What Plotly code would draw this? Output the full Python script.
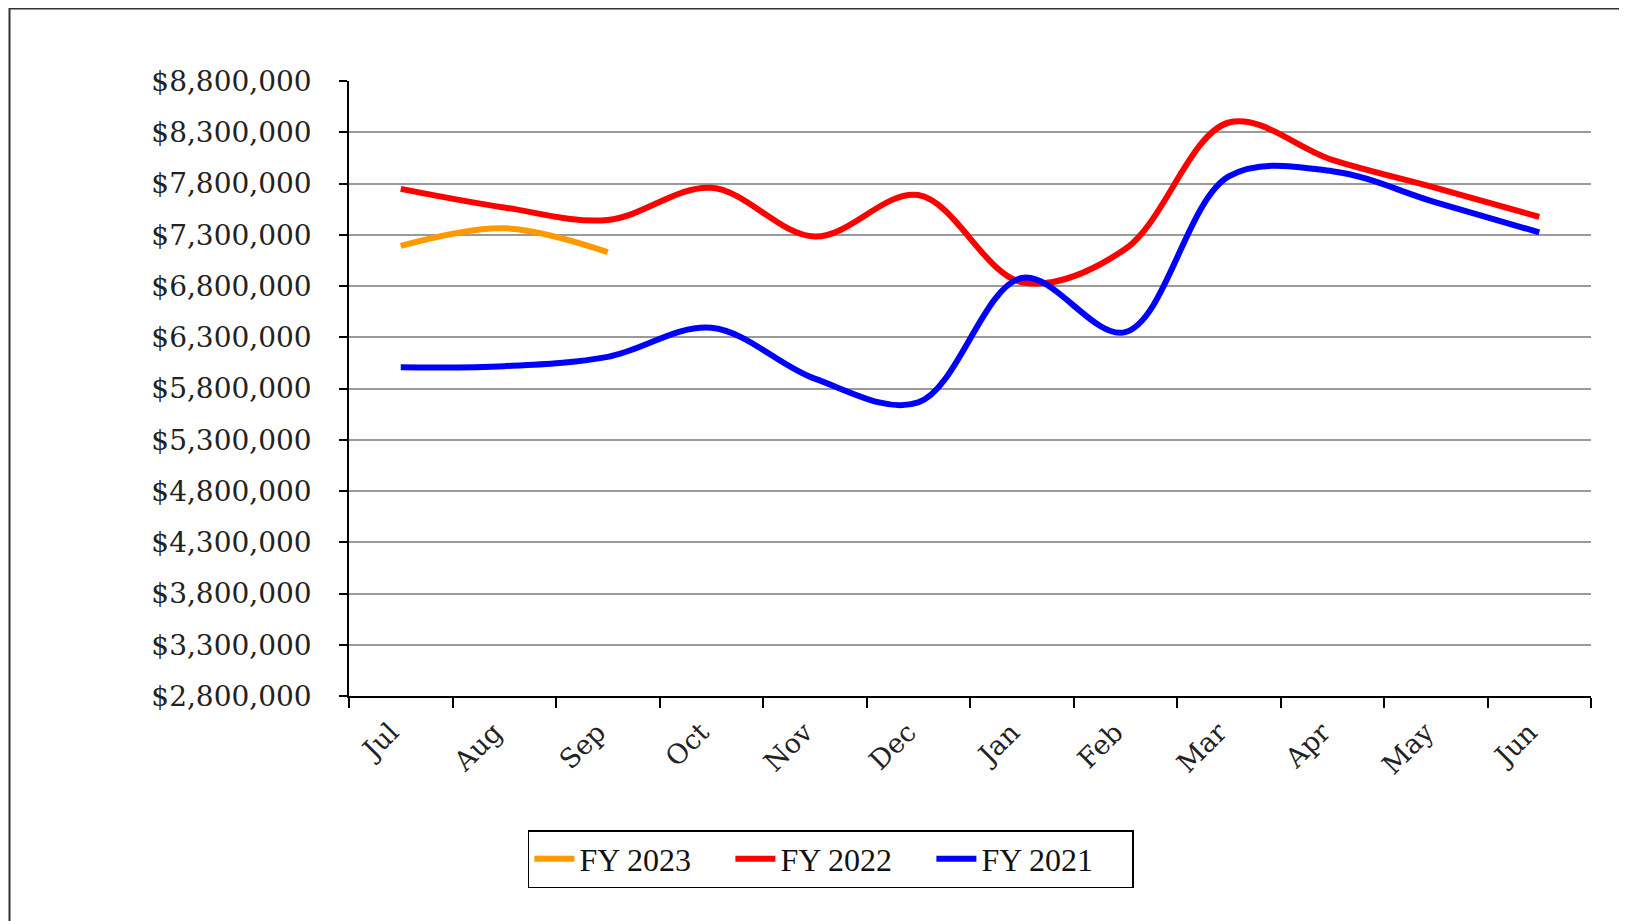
import plotly.graph_objects as go

months = ["Jul", "Aug", "Sep", "Oct", "Nov", "Dec", "Jan", "Feb", "Mar", "Apr", "May", "Jun"]
fy2023 = [7191000, 7363000, 7131000]
fy2022 = [7748000, 7566000, 7444000, 7758000, 7282000, 7687000, 6837000, 7161000, 8395000, 8031000, 7758000, 7475000]
fy2021 = [6008000, 6018000, 6109000, 6392000, 5896000, 5664000, 6878000, 6350000, 7869000, 7920000, 7616000, 7323000]
y_ticks = list(range(2800000, 8800001, 500000))

fig = go.Figure()
series = [("FY 2023", fy2023, "#FF9900"), ("FY 2022", fy2022, "#FF0000"), ("FY 2021", fy2021, "#0000FF")]
for name, vals, col in series:
    fig.add_trace(go.Scatter(
        x=months[:len(vals)], y=vals, name=name, mode="lines",
        line=dict(color=col, width=6, shape="spline", smoothing=1.0),
    ))

# page offset of 8px (default body margin) subtracted
L, R, T, B = 341, 1583, 73, 688
W, H = 1619, 913
fig.update_layout(
    width=W, height=H,
    margin=dict(l=L, r=W - R, t=T, b=H - B, autoexpand=False),
    paper_bgcolor="white", plot_bgcolor="white",
    showlegend=True,
    legend=dict(
        orientation="h", x=0.388, xanchor="center", y=-0.218, yanchor="top",
        bordercolor="black", borderwidth=1.5,
        font=dict(family="Liberation Serif", size=32, color="#111"),
        itemwidth=40, entrywidth=146, entrywidthmode="pixels",
        traceorder="normal", tracegroupgap=0,
    ),
    xaxis=dict(
        type="category", categoryorder="array", categoryarray=months,
        range=[-0.5, 11.5], tickson="boundaries",
        showline=True, linecolor="black", linewidth=1.5,
        ticks="outside", ticklen=10, tickcolor="black", tickwidth=1.5,
        showgrid=False, tickangle=-45,
        ticklabelstandoff=8, ticklabelshift=-10,
        tickfont=dict(family="DejaVu Serif", size=27, color="#222"),
    ),
    yaxis=dict(
        range=[2800000, 8800000], tickvals=y_ticks, tickformat="$,.0f",
        showline=True, linecolor="black", linewidth=1.5,
        ticks="outside", ticklen=8, tickcolor="black", tickwidth=1.5,
        showgrid=True, gridcolor="#9a9a9a", gridwidth=1.5,
        zeroline=False, ticklabelstandoff=22,
        tickfont=dict(family="DejaVu Serif", size=28, color="#222"),
    ),
)

pw, ph = R - L, B - T
fig.add_shape(type="rect", xref="paper", yref="paper",
              x0=(1.5 - L) / pw, x1=(1700 - L) / pw,
              y0=(B - 1000) / ph, y1=(B - 0.5) / ph,
              line=dict(color="#333", width=2), fillcolor="rgba(0,0,0,0)", layer="below")

fig.write_html("out.html")
